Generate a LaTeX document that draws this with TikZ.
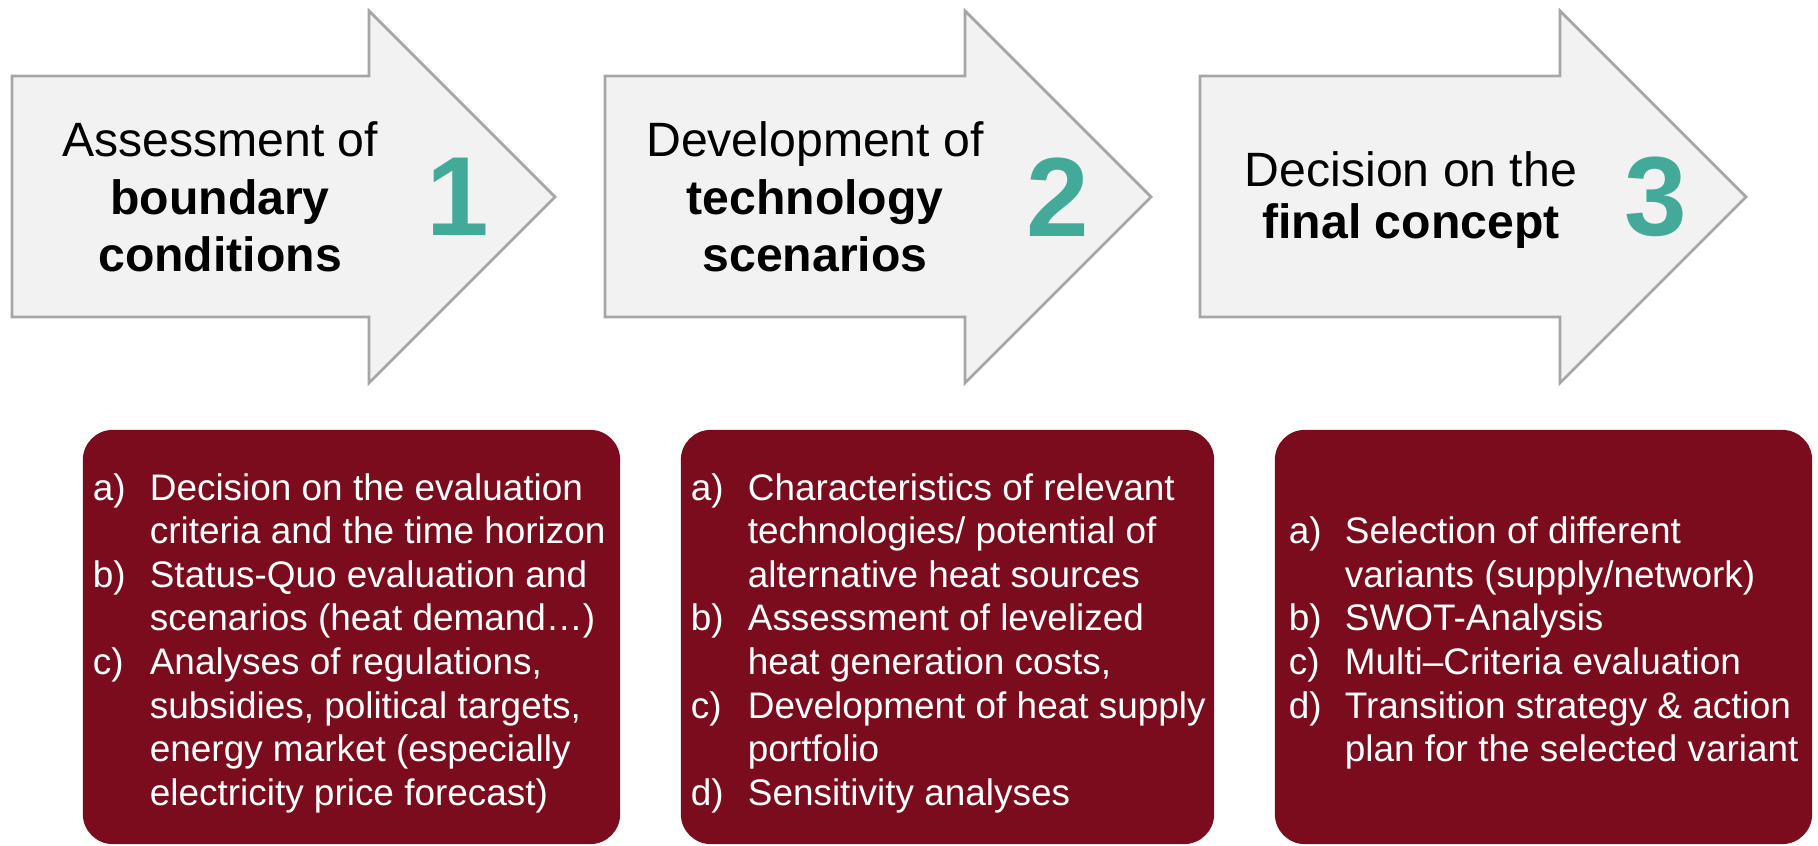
\documentclass[tikz,border=0pt]{standalone}
\usepackage{fontspec}
\setmainfont{Liberation Sans}
\definecolor{arrowgray}{RGB}{242, 242, 242}
\definecolor{edgegray}{RGB}{166, 166, 166}
\definecolor{stepteal}{RGB}{67, 170, 153}
\definecolor{boxred}{RGB}{122, 12, 30}
\usetikzlibrary{positioning, calc}

\begin{document}
\begin{tikzpicture}[x=0.01cm, y=0.01cm,
  stepshape/.style={draw=edgegray, fill=arrowgray, line width=0.8pt},
  steptitle/.style={align=center, inner sep=0pt, font=\fontsize{13.7}{16.4}\selectfont},
  stepnum/.style={text=stepteal, inner sep=0pt, font=\fontsize{32}{32}\selectfont\bfseries},
  taskbox/.style={fill=boxred, rounded corners=0.3cm, minimum height=4.14cm, inner sep=0pt},
  tasklist/.style={text=white, inner sep=0pt, anchor=west, font=\fontsize{10.5}{12.4}\selectfont}]
  \useasboundingbox (0,0) rectangle (1818,846);

  % Step 1: boundary conditions
  \draw[stepshape] (12,529) -- (369,529) -- (369,463) -- (555,649) -- (369,835) -- (369,770) -- (12,770) -- cycle;
  \node[steptitle] (title1) at (220,649) {Assessment of\\\textbf{boundary}\\\textbf{conditions}};
  \node[stepnum] (num1) at (458,649) {1};

  % Step 2: technology scenarios
  \draw[stepshape] (605,529) -- (965,529) -- (965,463) -- (1151,649) -- (965,835) -- (965,770) -- (605,770) -- cycle;
  \node[steptitle] (title2) at (815,649) {Development of\\\textbf{technology}\\\textbf{scenarios}};
  \node[stepnum] (num2) at (1058,649) {2};

  % Step 3: final concept
  \draw[stepshape] (1200,529) -- (1560,529) -- (1560,463) -- (1746,649) -- (1560,835) -- (1560,770) -- (1200,770) -- cycle;
  \node[steptitle, font=\fontsize{13.7}{14.7}\selectfont] (title3) at (1411,646) {Decision on the\\\textbf{final concept}};
  \node[stepnum] (num3) at (1656,649) {3};

  % Task boxes
  \node[taskbox, minimum width=5.37cm] (box1) at (351.5,209) {};
  \node[taskbox, minimum width=5.33cm] (box2) at (947.5,209) {};
  \node[taskbox, minimum width=5.37cm] (box3) at (1543.5,209) {};

  \node[tasklist] (list1) at ([xshift=0.1cm, yshift=-0.07cm]box1.west) {%
    \begin{tabular}{@{}p{0.57cm}@{}l@{}}
      a) & Decision on the evaluation\\
         & criteria and the time horizon\\
      b) & Status-Quo evaluation and\\
         & scenarios (heat demand…)\\
      c) & Analyses of regulations,\\
         & subsidies, political targets,\\
         & energy market (especially\\
         & electricity price forecast)
    \end{tabular}};

  \node[tasklist] (list2) at ([xshift=0.1cm, yshift=-0.07cm]box2.west) {%
    \begin{tabular}{@{}p{0.57cm}@{}l@{}}
      a) & Characteristics of relevant\\
         & technologies/ potential of\\
         & alternative heat sources\\
      b) & Assessment of levelized\\
         & heat generation costs,\\
      c) & Development of heat supply\\
         & portfolio\\
      d) & Sensitivity analyses
    \end{tabular}};

  \node[tasklist] (list3) at ([xshift=0.14cm, yshift=-0.07cm]box3.west) {%
    \begin{tabular}{@{}p{0.56cm}@{}l@{}}
      a) & Selection of different\\
         & variants (supply/network)\\
      b) & SWOT-Analysis\\
      c) & Multi–Criteria evaluation\\
      d) & Transition strategy \& action\\
         & plan for the selected variant
    \end{tabular}};
\end{tikzpicture}
\end{document}
